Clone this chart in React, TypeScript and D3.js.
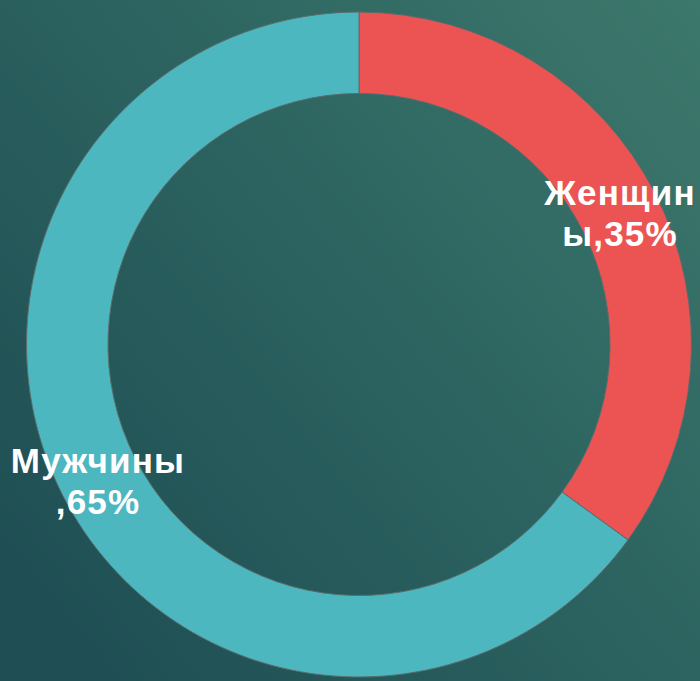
import React from "react";
import * as d3 from "d3";

const categories = ["Женщины", "Мужчины"];
const values = [35, 65];
const labelLines = [["Женщин", "ы,35%"], ["Мужчины", ",65%"]];
const colors = ["#ec5353", "#4cb7bf"];

const W = 700;
const H = 681;

export default function App() {
  const cx = 359;
  const cy = 344.5;
  const R = 332.5;
  const r = 251;
  const pie = d3.pie<number>().sort(null).value((d) => d)(values);
  const arc = d3.arc<d3.PieArcDatum<number>>().innerRadius(r).outerRadius(R);
  const labelPos = [
    { x: 620, y: 205 },
    { x: 98, y: 473 },
  ];
  return (
    <svg
      width={W}
      height={H}
      style={{ position: "fixed", left: 0, top: 0, display: "block" }}
    >
      <defs>
        <linearGradient id="bg" x1="0" y1="0.8" x2="1" y2="0">
          <stop offset="0" stopColor="#1f4f54" />
          <stop offset="0.5" stopColor="#2c6360" />
          <stop offset="1" stopColor="#3d786c" />
        </linearGradient>
      </defs>
      <rect x={0} y={0} width={W} height={H} fill="url(#bg)" />
      <g transform={`translate(${cx},${cy})`}>
        {pie.map((d, i) => (
          <path
            key={categories[i]}
            d={arc(d) || ""}
            fill={colors[i]}
            stroke="#5b6b6b"
            strokeWidth={1}
          />
        ))}
      </g>
      {labelLines.map((lines, i) => (
        <text
          key={categories[i]}
          textAnchor="middle"
          fill="#ffffff"
          fontFamily="Liberation Sans, Arial, sans-serif"
          fontWeight="bold"
          fontSize={35}
          letterSpacing={1.2}
        >
          {lines.map((t, j) => (
            <tspan key={j} x={labelPos[i].x} y={labelPos[i].y + j * 41}>
              {t}
            </tspan>
          ))}
        </text>
      ))}
    </svg>
  );
}
